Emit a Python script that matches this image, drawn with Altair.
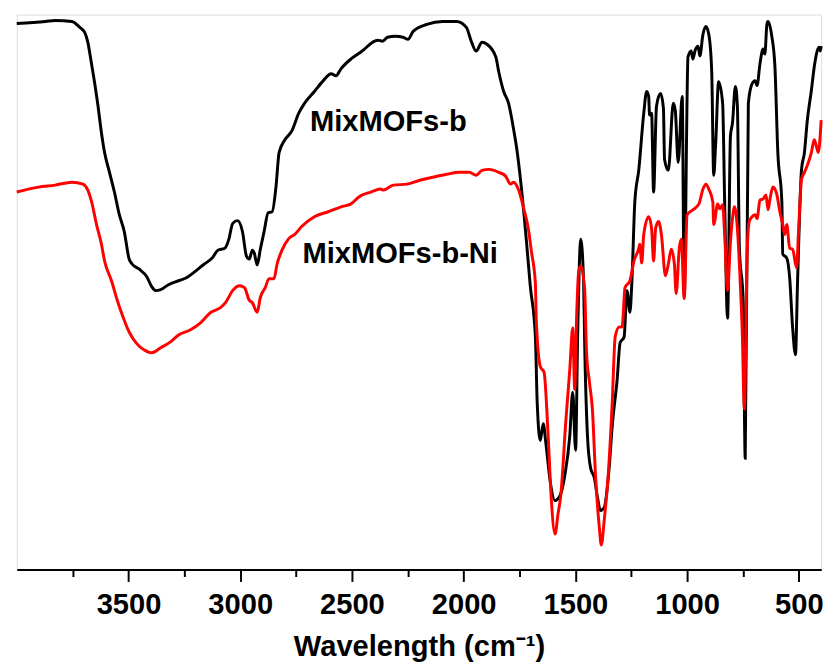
import altair as alt
import pandas as pd

# (wavenumber cm-1, transmittance a.u.)
black_b = [(4000,554),(3872,556),(3828,557),(3753,556),(3718,550),(3696,545),(3682,535),(3669,518),(3651,493),(3638,473),
 (3621,443),(3607,423),(3585,403),(3563,383),(3541,360),(3519,343),(3497,315),(3484,310),(3453,305),(3418,297),
 (3396,287),(3378,283),(3356,284),(3321,289),(3276,293),(3241,296),(3210,301),(3166,309),(3122,317),(3100,324),
 (3069,326),(3051,335),(3034,351),(3012,354),(2990,343),(2972,318),(2959,315),(2946,324),(2937,321),(2924,309),
 (2910,325),(2893,343),(2875,362),(2857,363),(2840,388),(2826,423),(2800,436),(2769,445),(2738,463),(2712,473),
 (2668,485),(2628,496),(2593,503),(2571,501),(2549,508),(2504,518),(2460,525),(2385,537),(2363,536),(2341,540),
 (2306,541),(2271,540),(2249,538),(2226,546),(2165,553),(2094,556),(2032,556),(1988,550),(1966,536),(1944,526),
 (1918,535),(1896,533),(1856,520),(1843,505),(1821,485),(1799,473),(1776,446),(1763,428),(1741,386),(1719,333),
 (1702,288),(1679,236),(1671,170),(1657,131),(1644,148),(1631,126),(1613,90),(1591,70),(1569,75),(1547,96),
 (1525,136),(1512,180),(1499,121),(1490,236),(1476,335),(1463,290),(1459,236),(1446,136),(1432,103),(1415,93),
 (1401,73),(1388,60),(1371,63),(1349,103),(1335,146),(1313,193),(1300,230),(1282,236),(1269,283),(1256,261),
 (1247,293),(1234,373),(1216,406),(1194,463),(1181,485),(1172,480),(1168,461),(1159,463),(1150,383),(1137,470),
 (1119,483),(1106,468),(1101,416),(1084,405),(1062,473),(1053,466),(1040,413),(1022,480),(1013,278),(996,520),
 (982,526),(974,518),(965,526),(951,531),(943,521),(929,543),(916,551),(903,543),(890,506),(881,400),
 (872,433),(859,495),(841,473),(832,373),(819,255),(806,440),(797,453),(784,490),(775,470),(766,326),
 (749,273),(740,113),(726,473),(709,493),(696,496),(687,491),(674,513),(660,528),(652,523),(643,553),
 (638,556),(621,541),(607,510),(594,423),(576,373),(572,320),(554,316),(541,296),(528,246),(515,218),
 (506,290),(488,406),(475,423),(462,456),(444,486),(431,510),(418,526),(409,530),(404,526),(400,531)]

red_ni = [(4000,383),(3903,388),(3828,390),(3753,393),(3704,391),(3682,385),(3665,373),(3643,350),(3621,330),(3607,313),
 (3576,293),(3550,273),(3519,253),(3497,241),(3466,230),(3431,223),(3396,220),(3356,225),(3312,231),(3276,238),
 (3224,243),(3179,250),(3131,261),(3087,266),(3065,271),(3034,283),(3003,288),(2981,286),(2959,273),(2946,271),
 (2924,261),(2910,276),(2888,286),(2871,295),(2849,295),(2835,310),(2813,324),(2782,336),(2756,340),(2725,348),
 (2668,358),(2606,363),(2549,368),(2504,371),(2469,378),(2416,383),(2372,386),(2359,385),(2315,390),(2253,391),
 (2196,395),(2138,398),(2076,401),(2019,403),(1975,403),(1944,400),(1918,405),(1887,406),(1843,403),(1812,399),
 (1790,391),(1776,393),(1754,385),(1732,367),(1710,345),(1697,323),(1679,290),(1675,253),(1657,206),(1640,200),
 (1622,136),(1609,76),(1591,36),(1578,56),(1565,76),(1543,150),(1525,203),(1512,245),(1503,183),(1494,260),
 (1485,303),(1476,308),(1459,286),(1450,220),(1437,190),(1424,163),(1410,96),(1393,43),(1384,25),(1371,50),
 (1353,96),(1335,170),(1322,236),(1304,246),(1291,246),(1278,286),(1256,293),(1238,313),(1216,326),(1212,330),
 (1203,311),(1194,340),(1172,358),(1159,346),(1150,313),(1141,346),(1128,353),(1115,340),(1097,298),(1084,310),
 (1071,325),(1057,310),(1049,280),(1035,326),(1026,335),(1013,275),(1000,360),(974,365),(947,371),(929,386),
 (916,391),(903,386),(885,373),(881,350),(863,371),(854,366),(841,370),(832,340),(819,283),(806,333),
 (797,356),(788,368),(775,346),(762,290),(753,240),(744,163),(731,323),(722,353),(709,358),(696,360),
 (687,356),(674,375),(660,376),(647,380),(638,365),(629,376),(616,388),(599,381),(585,363),(572,350),
 (563,340),(554,350),(541,326),(528,325),(510,306),(502,340),(488,396),(475,403),(462,410),(444,423),
 (431,436),(422,430),(413,423),(400,456)]

label_text = ["MixMOFs-b", "MixMOFs-b-Ni"]
label_wn = [2337, 2284]
label_t = [445, 311]

major_ticks = [3500, 3000, 2500, 2000, 1500, 1000, 500]
minor_ticks = [3750, 3250, 2750, 2250, 1750, 1250, 750]
all_ticks = sorted(major_ticks + minor_ticks, reverse=True)

FONT = "Liberation Sans"
FS = 29.5

df_b = pd.DataFrame(black_b, columns=["wn", "t"])
df_ni = pd.DataFrame(red_ni, columns=["wn", "t"])
df_lab = pd.DataFrame({"text": label_text, "wn": label_wn, "t": label_t})

xscale = alt.Scale(domain=[4000, 400], nice=False, zero=False)
yscale = alt.Scale(domain=[0, 563], nice=False, zero=False)

xaxis = alt.Axis(
    values=all_ticks,
    format="d",
    labelExpr="datum.value % 500 === 0 ? datum.label : ''",
    grid=False,
    domainColor="black",
    domainWidth=2,
    tickColor="black",
    tickWidth=2,
    tickSize={"condition": {"test": "datum.value % 500 === 0", "value": 12}, "value": 7},
    labelFont=FONT,
    labelFontSize=FS,
    labelFontWeight="bold",
    labelColor="black",
    labelPadding=10,
    labelOverlap=False,
    labelFlush=False,
    titleFont=FONT,
    titleFontSize=FS,
    titleFontWeight="bold",
    titleColor="black",
    titlePadding=14,
)

line_b = alt.Chart(df_b).mark_line(color="#000000", strokeWidth=3, interpolate="monotone").encode(
    x=alt.X("wn:Q", scale=xscale, axis=xaxis, title="Wavelength (cm⁻¹)"),
    y=alt.Y("t:Q", scale=yscale, axis=None),
    order="index:Q",
).transform_window(index="row_number()")

line_ni = alt.Chart(df_ni).mark_line(color="#ff0000", strokeWidth=3, interpolate="monotone").encode(
    x=alt.X("wn:Q", scale=xscale),
    y=alt.Y("t:Q", scale=yscale),
    order="index:Q",
).transform_window(index="row_number()")

labels = alt.Chart(df_lab).mark_text(
    font=FONT, fontSize=FS, fontWeight="bold", color="black", align="center", baseline="alphabetic"
).encode(
    x=alt.X("wn:Q", scale=xscale),
    y=alt.Y("t:Q", scale=yscale),
    text="text:N",
)

chart = alt.layer(line_b, line_ni, labels).properties(
    width=816, height=563,
    padding={"left": 11, "top": 10, "right": 7, "bottom": 0},
).configure_view(strokeWidth=0).configure(background="white")

chart.save("out.html", embed_options={"renderer": "svg", "actions": False})
